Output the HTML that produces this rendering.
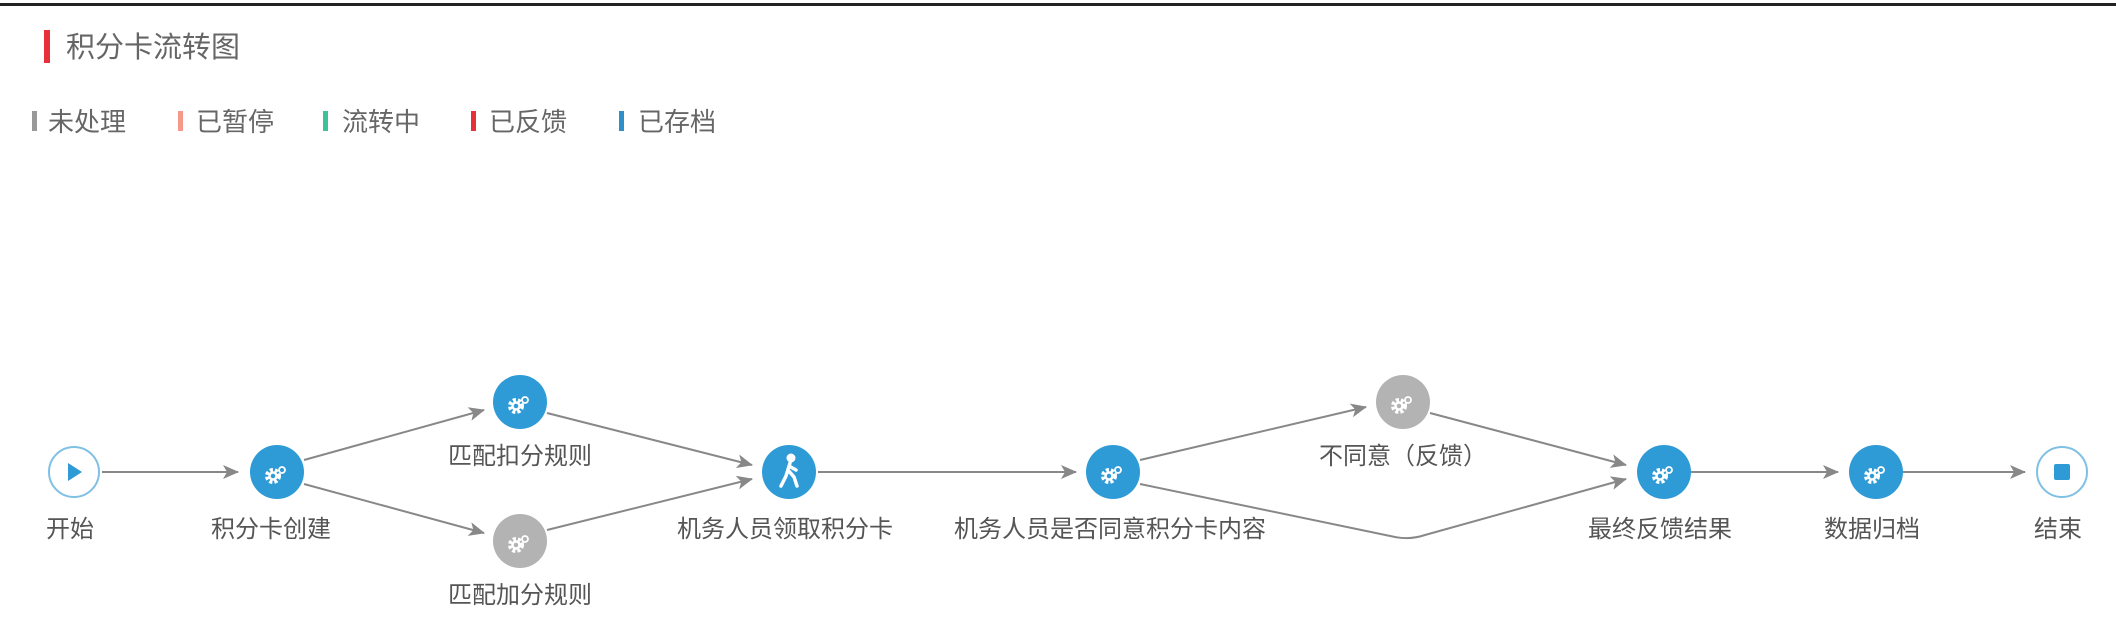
<!DOCTYPE html>
<html><head><meta charset="utf-8"><style>
body{margin:0;width:2116px;height:630px;background:#fff;overflow:hidden;font-family:"Liberation Sans","Noto Sans CJK SC",sans-serif;}
</style></head><body>
<svg width="2116" height="630" xmlns="http://www.w3.org/2000/svg" style="position:absolute;left:0;top:0">
<defs>
<marker id="a" markerWidth="16" markerHeight="14" refX="15" refY="7" orient="auto" markerUnits="userSpaceOnUse">
<path d="M0,0 L16,7 L0,14 L4,7 z" fill="#888"/></marker>
<g id="gear">
<circle r="6" fill="none" stroke="#fff" stroke-width="4" stroke-dasharray="3 2"/>
<circle r="3.5" fill="none" stroke="#fff" stroke-width="2.5"/>
<circle cx="9" cy="-6" r="3" fill="none" stroke="#fff" stroke-width="1.8"/>
</g>
</defs>
<rect x="0" y="3" width="2116" height="3" fill="#222"/>
<rect x="44" y="30" width="6" height="33" fill="#e8303a"/>
<text x="66" y="57" font-size="29" fill="#666">积分卡流转图</text>
<g font-size="26" fill="#666">
<rect x="32" y="111" width="5" height="20" fill="#999"/><text x="48" y="131">未处理</text>
<rect x="178" y="111" width="5" height="20" fill="#f59a8a"/><text x="196" y="131">已暂停</text>
<rect x="323" y="111" width="5" height="20" fill="#3cc39a"/><text x="342" y="131">流转中</text>
<rect x="471" y="111" width="5" height="20" fill="#e8303a"/><text x="489" y="131">已反馈</text>
<rect x="619" y="111" width="5" height="20" fill="#2f8fc9"/><text x="638" y="131">已存档</text>
</g>
<g stroke="#888" stroke-width="2" fill="none" marker-end="url(#a)">
<line x1="102" y1="472" x2="238" y2="472"/>
<line x1="304" y1="460" x2="484" y2="410"/>
<line x1="304" y1="484" x2="484" y2="533"/>
<line x1="547" y1="413" x2="752" y2="465"/>
<line x1="547" y1="530" x2="752" y2="479"/>
<line x1="818" y1="472" x2="1076" y2="472"/>
<line x1="1140" y1="460" x2="1366" y2="407"/>
<line x1="1430" y1="413" x2="1626" y2="465"/>
<path d="M1140,484 L1395,537 Q1410,540 1425,535 L1626,479"/>
<line x1="1691" y1="472" x2="1838" y2="472"/>
<line x1="1903" y1="472" x2="2025" y2="472"/>
</g>
<circle cx="74" cy="472" r="25" fill="#fff" stroke="#7fc0e4" stroke-width="2"/>
<path d="M68,463 L82,472 L68,481 z" fill="#2f9bd6"/>
<circle cx="2062" cy="472" r="25" fill="#fff" stroke="#7fc0e4" stroke-width="2"/>
<rect x="2054" y="464" width="16" height="16" rx="2" fill="#2f9bd6"/>
<g fill="#2f9bd6">
<circle cx="277" cy="472" r="27"/><circle cx="520" cy="402" r="27"/>
<circle cx="789" cy="472" r="27"/><circle cx="1113" cy="472" r="27"/>
<circle cx="1664" cy="472" r="27"/><circle cx="1876" cy="472" r="27"/>
</g>
<g fill="#b3b3b3"><circle cx="520" cy="541" r="27"/><circle cx="1403" cy="402" r="27"/></g>
<use href="#gear" x="273" y="476"/><use href="#gear" x="516" y="406"/><use href="#gear" x="516" y="545"/>
<use href="#gear" x="1109" y="476"/><use href="#gear" x="1399" y="406"/><use href="#gear" x="1660" y="476"/><use href="#gear" x="1872" y="476"/>
<g fill="#fff" stroke="#fff">
<circle cx="791" cy="458" r="4"/>
<path d="M790,463 L786,476 L781,486 M788,470 L794,477 L797,486 M789,466 L796,470" stroke-width="3.5" fill="none" stroke-linecap="round"/>
</g>
<g font-size="24" fill="#555" text-anchor="middle">
<text x="70" y="537">开始</text>
<text x="271" y="537">积分卡创建</text>
<text x="520" y="464">匹配扣分规则</text>
<text x="520" y="603">匹配加分规则</text>
<text x="785" y="537">机务人员领取积分卡</text>
<text x="1110" y="537">机务人员是否同意积分卡内容</text>
<text x="1403" y="464">不同意（反馈）</text>
<text x="1660" y="537">最终反馈结果</text>
<text x="1872" y="537">数据归档</text>
<text x="2058" y="537">结束</text>
</g>
</svg>
</body></html>
